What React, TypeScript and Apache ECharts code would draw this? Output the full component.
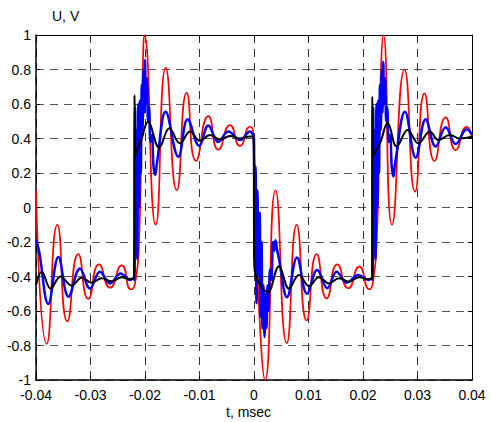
import React, { useEffect, useRef } from 'react';
import * as echarts from 'echarts';

const xLabelTitle = 't, msec';
const yLabelTitle = 'U, V';

const redData: [number, number][] = [
  [-0.04, 0.1], [-0.03804, -0.79], [-0.03609, -0.1], [-0.03426, -0.66], [-0.03224, -0.27],
  [-0.0304, -0.53], [-0.02844, -0.33], [-0.02642, -0.465], [-0.02428, -0.335], [-0.02257, -0.475],
  [-0.02183, -0.44], [-0.0211, -0.2], [-0.02064, 0.45], [-0.02037, 0.85], [-0.02013, 1.0],
  [-0.01804, -0.1], [-0.0162, 0.81], [-0.01418, 0.1], [-0.01235, 0.665], [-0.01064, 0.27],
  [-0.00838, 0.53], [-0.00655, 0.335], [-0.0044, 0.478], [-0.00257, 0.357], [-0.00073, 0.468],
  [-0.00018, 0.44], [0.00037, -0.1], [0.0013, -0.8], [0.00202, -1.0],
  [0.00394, 0.1], [0.006, -0.787], [0.00783, -0.1], [0.00966, -0.655], [0.0115, -0.27],
  [0.01334, -0.527], [0.01528, -0.33], [0.0173, -0.468], [0.01932, -0.343], [0.02116, -0.474],
  [0.02178, -0.44], [0.0225, -0.2], [0.02303, 0.45], [0.02335, 0.85], [0.02372, 1.0],
  [0.02532, -0.1], [0.02761, 0.8], [0.02954, 0.092], [0.03128, 0.662], [0.03312, 0.27],
  [0.03517, 0.523], [0.03701, 0.333], [0.03903, 0.468], [0.04, 0.414],
];

const blueData: [number, number][] = [
  [-0.04, -0.19], [-0.03945, -0.25], [-0.03774, -0.56], [-0.0359, -0.287], [-0.03404, -0.517],
  [-0.03193, -0.353], [-0.03009, -0.47], [-0.02826, -0.372], [-0.02642, -0.44], [-0.02446, -0.382],
  [-0.02275, -0.42], [-0.0222, -0.41], [-0.02193, -0.42],
  [-0.02183, 0.58], [-0.0217, -0.25], [-0.02156, 0.45], [-0.02141, -0.3], [-0.02123, 0.6],
  [-0.02106, 0.0], [-0.02092, 0.62], [-0.02077, 0.2], [-0.02059, 0.71], [-0.02044, 0.45],
  [-0.02028, 0.8], [-0.02013, 0.55], [-0.02, 0.855], [-0.01982, 0.6], [-0.01963, 0.75],
  [-0.01945, 0.5], [-0.01927, 0.58], [-0.01899, 0.38], [-0.01872, 0.42], [-0.01844, 0.24],
  [-0.01811, 0.19], [-0.0178, 0.26],
  [-0.0162, 0.555], [-0.01389, 0.294], [-0.01217, 0.511], [-0.01004, 0.357], [-0.00838, 0.475],
  [-0.00655, 0.38], [-0.00471, 0.44], [-0.00257, 0.391], [-0.00073, 0.44], [-0.00018, 0.42],
  [0.0, 0.4], [0.00009, -0.3], [0.00028, 0.237], [0.00046, -0.555], [0.00064, 0.1],
  [0.00083, -0.4], [0.00105, -0.03], [0.00119, -0.633], [0.00138, -0.2], [0.00156, -0.7],
  [0.00174, -0.45], [0.00193, -0.75], [0.00211, -0.5], [0.00229, -0.7], [0.00248, -0.45],
  [0.00266, -0.6], [0.00294, -0.36], [0.00321, -0.42], [0.00349, -0.2], [0.00376, -0.25],
  [0.00394, -0.19], [0.00422, -0.24], [0.00459, -0.3],
  [0.00606, -0.52], [0.00789, -0.29], [0.00972, -0.5], [0.01161, -0.362], [0.01345, -0.468],
  [0.01517, -0.372], [0.01701, -0.436], [0.01914, -0.391], [0.02097, -0.42], [0.02165, -0.41],
  [0.02178, -0.42], [0.02187, 0.58], [0.022, -0.25], [0.02215, 0.45], [0.02229, -0.3],
  [0.02248, 0.6], [0.02264, 0.0], [0.02279, 0.62], [0.02294, 0.2], [0.02312, 0.71],
  [0.02327, 0.45], [0.02343, 0.8], [0.02358, 0.55], [0.02372, 0.845], [0.02389, 0.6],
  [0.02407, 0.75], [0.02426, 0.5], [0.02444, 0.58], [0.02472, 0.38], [0.02499, 0.42],
  [0.02527, 0.24], [0.0256, 0.18], [0.02591, 0.26],
  [0.02771, 0.555], [0.02967, 0.289], [0.0315, 0.511], [0.03334, 0.353], [0.03517, 0.465],
  [0.03701, 0.368], [0.03903, 0.453], [0.04, 0.42],
];

const blackData: [number, number][] = [
  [-0.04, -0.45], [-0.03895, -0.372], [-0.0373, -0.47], [-0.0355, -0.4], [-0.03345, -0.452],
  [-0.03161, -0.407], [-0.02978, -0.436], [-0.02794, -0.41], [-0.02611, -0.428], [-0.02428, -0.405],
  [-0.02275, -0.415], [-0.02202, -0.41], [-0.02192, 0.652], [-0.02178, 0.3], [-0.0215, 0.33],
  [-0.0207, 0.39], [-0.01945, 0.497], [-0.0174, 0.347], [-0.01554, 0.459], [-0.01358, 0.372],
  [-0.01174, 0.44], [-0.00991, 0.387], [-0.00807, 0.42], [-0.00624, 0.393], [-0.0044, 0.415],
  [-0.00257, 0.4], [-0.00073, 0.412], [-0.00009, 0.41],
  [0.00006, -0.34], [0.00257, -0.49], [0.00459, -0.34], [0.00642, -0.47], [0.00826, -0.391],
  [0.01009, -0.455], [0.01193, -0.405], [0.01376, -0.44], [0.0156, -0.41], [0.01743, -0.43],
  [0.01927, -0.405], [0.0211, -0.415], [0.02165, -0.41],
  [0.02171, 0.642], [0.02183, 0.3], [0.02312, 0.372], [0.02453, 0.49], [0.02618, 0.353],
  [0.0282, 0.449], [0.03015, 0.372], [0.03229, 0.44], [0.03382, 0.391], [0.03596, 0.42],
  [0.0378, 0.4], [0.04, 0.41],
];

const FONT = '"Liberation Sans", Arial, sans-serif';

export default function App() {
  const ref = useRef<HTMLDivElement>(null);
  useEffect(() => {
    document.body.style.margin = '0';
    const chart = echarts.init(ref.current!, null, { renderer: 'svg' });
    const tickStyle = { show: true, inside: true, length: 4, lineStyle: { color: '#000', width: 1 } };
    const hiddenAxis = {
      axisLine: { show: true, onZero: false, lineStyle: { color: '#000', width: 1 } },
      axisTick: tickStyle,
      axisLabel: { show: false },
      splitLine: { show: false },
    };
    chart.setOption({
      animation: false,
      grid: { left: 36, top: 35, width: 436, height: 345, show: false },
      graphic: [
        { type: 'text', left: 52, top: 9, style: { text: yLabelTitle, fontSize: 14, fontFamily: FONT, fill: '#000' } },
        { type: 'text', left: 226, top: 405, style: { text: xLabelTitle, fontSize: 14, fontFamily: FONT, fill: '#000' } },
      ],
      xAxis: [
        {
          type: 'value', min: -0.04, max: 0.04, interval: 0.01,
          axisLine: { show: true, onZero: false, lineStyle: { color: '#000', width: 1.5 } },
          axisTick: tickStyle,
          axisLabel: { color: '#000', fontSize: 14, lineHeight: 13, fontFamily: FONT, margin: 8 },
          splitLine: { show: true, lineStyle: { type: [8, 6], color: '#333', width: 1 } },
        },
        { type: 'value', position: 'top', min: -0.04, max: 0.04, interval: 0.01, ...hiddenAxis },
      ],
      yAxis: [
        {
          type: 'value', min: -1, max: 1, interval: 0.2,
          axisLine: { show: true, onZero: false, lineStyle: { color: '#000', width: 1.5 } },
          axisTick: tickStyle,
          axisLabel: { color: '#000', fontSize: 14, lineHeight: 12, fontFamily: FONT, margin: 5 },
          splitLine: { show: true, lineStyle: { type: [8, 6], color: '#555', width: 1 } },
        },
        { type: 'value', position: 'right', min: -1, max: 1, interval: 0.2, ...hiddenAxis },
      ],
      series: [
        { type: 'line', data: redData, smooth: 0.6, symbol: 'none', clip: true, lineStyle: { color: '#ff0000', width: 1.7 } },
        { type: 'line', data: blueData, smooth: 0.4, symbol: 'none', clip: true, lineStyle: { color: '#0000ff', width: 2.5 } },
        { type: 'line', data: blackData, smooth: 0.4, symbol: 'none', clip: true, lineStyle: { color: '#000000', width: 2 } },
      ],
    });
    return () => chart.dispose();
  }, []);
  return <div ref={ref} style={{ width: 491, height: 422 }} />;
}
